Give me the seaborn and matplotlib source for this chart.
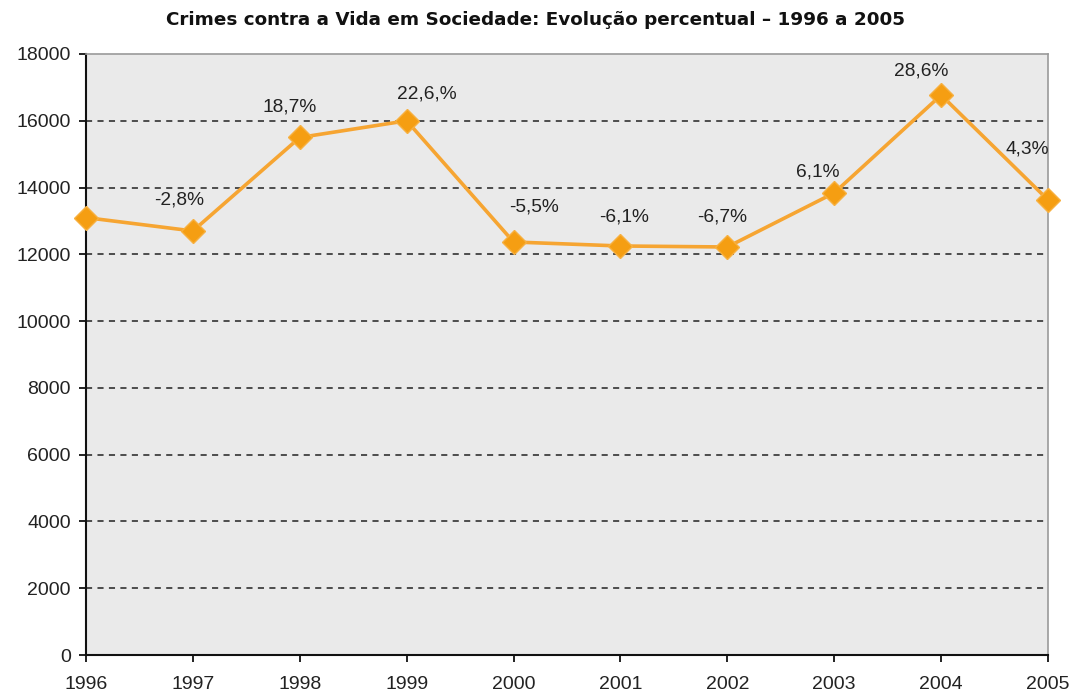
import matplotlib
matplotlib.use("Agg")
import matplotlib.pyplot as plt
import seaborn as sns
import pandas as pd

years = [1996, 1997, 1998, 1999, 2000, 2001, 2002, 2003, 2004, 2005]
crimes = [13100, 12700, 15500, 16000, 12370, 12250, 12220, 13840, 16770, 13630]
pct_labels = ["", "-2,8%", "18,7%", "22,6,%", "-5,5%", "-6,1%", "-6,7%", "6,1%", "28,6%", "4,3%"]
label_offsets = [(0, 0), (-14, 31), (-10, 30), (20, 27), (20, 35), (4, 29), (-5, 30), (-16, 21), (-20, 24), (-21, 51)]
yticks = [0, 2000, 4000, 6000, 8000, 10000, 12000, 14000, 16000, 18000]

sns.set_theme(style="white")
plt.rcParams['font.family'] = ['Liberation Sans', 'DejaVu Sans']

df = pd.DataFrame({"ano": years, "crimes": crimes})

fig = plt.figure(figsize=(10.7, 6.94), dpi=100)
ax = fig.add_axes([86/1070, 39/694, (1048-86)/1070, (655-54)/694])
ax.set_facecolor("#EAEAEA")

sns.lineplot(data=df, x="ano", y="crimes", ax=ax, color="#F6A532", linewidth=2.6,
             marker="D", markersize=12, markerfacecolor="#F59E12", markeredgecolor="#F7B040",
             markeredgewidth=1, clip_on=False, zorder=5)

ax.set_xlim(1996, 2005)
ax.set_ylim(0, 18000)
ax.set_xticks(years)
ax.set_xticklabels([str(y) for y in years])
ax.set_yticks(yticks)
ax.set_yticklabels([str(v) for v in yticks])
ax.set_xlabel("")
ax.set_ylabel("")

for v in yticks[1:-1]:
    ax.axhline(v, color="#222222", linestyle=(0, (4, 3.5)), linewidth=1.1, zorder=1)

for y, c, lab, off in zip(years, crimes, pct_labels, label_offsets):
    if lab:
        ax.annotate(lab, (y, c), xytext=off, textcoords="offset pixels",
                    ha="center", va="center", fontsize=13.8, color="#222222", zorder=6)

for s in ["left", "bottom"]:
    ax.spines[s].set_color("#111111")
    ax.spines[s].set_linewidth(1.5)
for s in ["top", "right"]:
    ax.spines[s].set_color("#9A9A9A")
    ax.spines[s].set_linewidth(1.2)

ax.tick_params(axis="both", which="major", direction="out", length=5, width=1.3,
               color="#111111", labelsize=14, labelcolor="#222222", pad=6,
               bottom=True, left=True)
ax.tick_params(axis="x", pad=10)

fig.text(0.5, 1 - 20/694, "Crimes contra a Vida em Sociedade: Evolução percentual \u2013 1996 a 2005",
         ha="center", va="center", fontsize=13.2, fontweight="bold", color="#111111",
         family=["DejaVu Sans"])

fig.savefig("out.png", dpi=100)
